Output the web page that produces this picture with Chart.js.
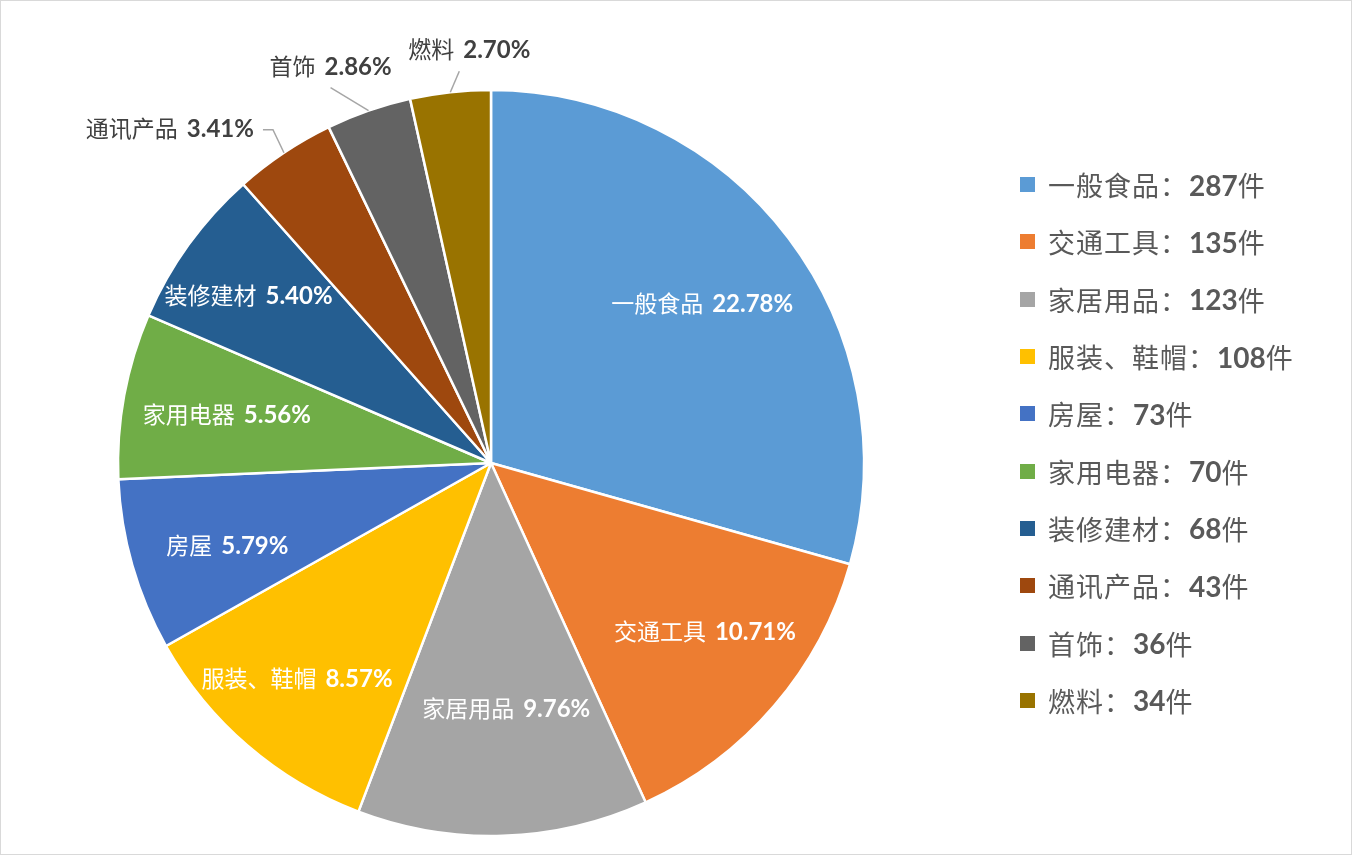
<!DOCTYPE html>
<html>
<head>
<meta charset="utf-8">
<script src="https://cdn.jsdelivr.net/npm/chart.js@4.4.1/dist/chart.umd.min.js"></script>
<style>
  html, body { margin: 0; padding: 0; background: #fff; }
  #wrap {
    position: relative; width: 1352px; height: 855px;
    box-sizing: border-box; border: 1px solid #d9d9d9; overflow: hidden;
  }
  #pieChart { position: absolute; left: 0; top: 0; }
  #legend { position: absolute; left: 1019px; top: 155px; }
  .row { height: 57.3px; display: flex; align-items: center; white-space: nowrap; }
  .box { width: 15px; height: 15px; margin-right: 13px; }
  .name { font-family: "Noto Sans CJK SC", sans-serif; font-size: 27px; letter-spacing: 1px; color: #595959; }
  .num { font-family: Lato, "Noto Sans CJK SC", sans-serif; font-weight: bold; font-size: 28px; color: #595959; margin-left: 1px; }
  .unit { font-family: "Noto Sans CJK SC", sans-serif; font-size: 27px; color: #595959; }
</style>
</head>
<body>
<div id="wrap">
  <canvas id="pieChart" width="1352" height="855"></canvas>
  <div id="legend"></div>
</div>
<script>
const categories = ['一般食品', '交通工具', '家居用品', '服装、鞋帽', '房屋', '家用电器', '装修建材', '通讯产品', '首饰', '燃料'];
const counts = [287, 135, 123, 108, 73, 70, 68, 43, 36, 34];
const percents = ['22.78%', '10.71%', '9.76%', '8.57%', '5.79%', '5.56%', '5.40%', '3.41%', '2.86%', '2.70%'];

const colors = ['#5B9BD5', '#ED7D31', '#A5A5A5', '#FFC000', '#4472C4', '#70AD47', '#255E91', '#9E480E', '#636363', '#997300'];

// inside labels: distance from centre (fraction of radius) and angle nudge in degrees
const labelRadius = [0.71, 0.73, 0.66, 0.777, 0.74, 0.72, 0.79];
const labelShift = [0, -2.4, -1.7, 1.3, -1.3, 0, -1.2];
// labels outside the pie: leader elbow offset from the arc edge, then text placement
const outside = {
    7: { ox: -11, oy: -23, hook: -10, align: 'right', dx: -9, dy: -1 },
    8: { ox: -38, oy: -23, hook: 0, align: 'center', dx: 0, dy: -21 },
    9: { ox: 9, oy: -21, hook: 0, align: 'center', dx: 10, dy: -22 }
};

const cjkFont = '"Noto Sans CJK SC", sans-serif';
const numFont = 'Lato, "Noto Sans CJK SC", sans-serif';

function drawMixed(ctx, name, num, x, y, align, color) {
    const cjk = '23px ' + cjkFont;
    const bold = 'bold 24px ' + numFont;
    ctx.fillStyle = color;
    ctx.textBaseline = 'middle';
    ctx.textAlign = 'left';
    ctx.font = cjk;
    const w1 = ctx.measureText(name).width + 9;
    ctx.font = bold;
    const w2 = ctx.measureText(num).width;
    let x0 = x - (w1 + w2) / 2;
    if (align === 'right') x0 = x - (w1 + w2);
    ctx.font = cjk;
    ctx.fillText(name, x0, y);
    ctx.font = bold;
    ctx.fillText(num, x0 + w1, y + 1);
}

const pieLabels = {
    id: 'pieLabels',
    afterDatasetsDraw(chart) {
        const ctx = chart.ctx;
        const arcs = chart.getDatasetMeta(0).data;
        ctx.save();
        arcs.forEach((arc, i) => {
            const p = arc.getProps(['x', 'y', 'startAngle', 'endAngle', 'outerRadius']);
            const mid = (p.startAngle + p.endAngle) / 2;
            if (outside[i]) {
                const o = outside[i];
                const sx = p.x + Math.cos(mid) * p.outerRadius, sy = p.y + Math.sin(mid) * p.outerRadius;
                const ex = sx + o.ox, ey = sy + o.oy;
                ctx.strokeStyle = '#a6a6a6';
                ctx.lineWidth = 1.5;
                ctx.beginPath();
                ctx.moveTo(sx, sy);
                ctx.lineTo(ex, ey);
                if (o.hook) ctx.lineTo(ex + o.hook, ey);
                ctx.stroke();
                drawMixed(ctx, categories[i], percents[i], ex + o.hook + o.dx, ey + o.dy, o.align, '#404040');
            } else {
                const a = mid + labelShift[i] * Math.PI / 180;
                const r = p.outerRadius * labelRadius[i];
                drawMixed(ctx, categories[i], percents[i], p.x + Math.cos(a) * r, p.y + Math.sin(a) * r, 'center', '#ffffff');
            }
        });
        ctx.restore();
    }
};

const data = {
    labels: categories,
    datasets: [{
        data: counts,
        backgroundColor: colors,
        borderColor: '#ffffff',
        borderWidth: 2.5,
        radius: 373
    }]
};

const config = {
    type: 'pie',
    data: data,
    options: {
        responsive: false,
        animation: false,
        layout: { padding: { left: 117, right: 489, top: 89, bottom: 20 } },
        plugins: { legend: { display: false }, tooltip: { enabled: false } }
    },
    plugins: [pieLabels]
};

// eslint-disable-next-line
const pieChart = new Chart(document.getElementById('pieChart'), config);

const legend = document.getElementById('legend');
categories.forEach((c, i) => {
    const row = document.createElement('div');
    row.className = 'row';
    row.innerHTML = '<div class="box" style="background:' + colors[i] + '"></div>' +
        '<span class="name">' + c + '：</span><span class="num">' + counts[i] + '</span><span class="unit">件</span>';
    legend.appendChild(row);
});
</script>
</body>
</html>
